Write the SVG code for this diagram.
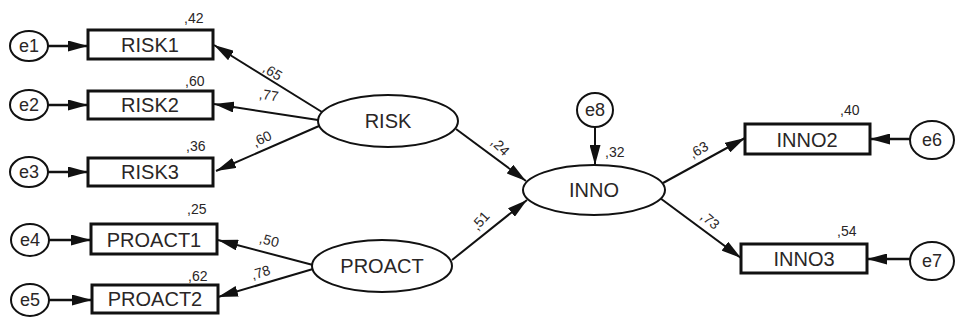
<svg xmlns="http://www.w3.org/2000/svg" width="957" height="324" viewBox="0 0 957 324">
<style>
text{font-family:"Liberation Sans",Arial,sans-serif;fill:#2a2626}
.obs{fill:#fff;stroke:#111;stroke-width:3}
.lat{fill:#fff;stroke:#111;stroke-width:2}
.err{fill:#fff;stroke:#111;stroke-width:2}
.big{font-size:20px;text-anchor:middle}
.el{font-size:18px;text-anchor:middle}
.sm{font-size:14px}
.pl{font-size:14px;text-anchor:middle}
.c{stroke:#111;stroke-width:2;fill:none;marker-end:url(#ah)}
.ce{stroke:#111;stroke-width:2.5;fill:none;marker-end:url(#ah)}
</style>
<defs>
<marker id="ah" markerUnits="userSpaceOnUse" markerWidth="20" markerHeight="11" refX="20" refY="5.5" orient="auto">
<path d="M0,0 L20,5.5 L0,11 z" fill="#111"/>
</marker>
</defs>
<g id="connectors">
<line class="ce" x1="48" y1="46" x2="88" y2="46"/>
<line class="ce" x1="48" y1="105" x2="88" y2="105"/>
<line class="ce" x1="48" y1="172" x2="88" y2="172"/>
<line class="ce" x1="49" y1="240" x2="91" y2="240"/>
<line class="ce" x1="49" y1="300" x2="92" y2="300"/>
<line class="c" x1="322" y1="112" x2="214" y2="45"/>
<line class="c" x1="318" y1="120" x2="214" y2="104"/>
<line class="c" x1="319" y1="126" x2="216" y2="171"/>
<line class="c" x1="313" y1="265" x2="218" y2="240"/>
<line class="c" x1="313" y1="269" x2="218" y2="297"/>
<line class="c" x1="456" y1="129" x2="526" y2="181"/>
<line class="c" x1="452" y1="260" x2="527" y2="200"/>
<line class="c" x1="595" y1="127" x2="595" y2="165"/>
<line class="c" x1="663" y1="183" x2="745" y2="138"/>
<line class="c" x1="660" y1="198" x2="741" y2="258"/>
<line class="ce" x1="910" y1="139" x2="870" y2="139"/>
<line class="ce" x1="910" y1="259" x2="867" y2="259"/>
<text class="pl" transform="translate(270,76) rotate(32)">,65</text>
<text class="pl" transform="translate(268,100) rotate(9)">,77</text>
<text class="pl" transform="translate(264,143) rotate(-26)">,60</text>
<text class="pl" transform="translate(268,245) rotate(15)">,50</text>
<text class="pl" transform="translate(262,277) rotate(-17)">,78</text>
<text class="pl" transform="translate(497,150) rotate(45)">,24</text>
<text class="pl" transform="translate(484,224) rotate(-48)">,51</text>
<text class="pl" transform="translate(701,154) rotate(-30)">,63</text>
<text class="pl" transform="translate(707,224) rotate(40)">,73</text>
</g>
<g id="e1"><ellipse class="err" cx="29" cy="46" rx="19" ry="15"/><text class="el" x="29" y="52">e1</text></g>
<g id="e2"><ellipse class="err" cx="29" cy="105" rx="19" ry="15"/><text class="el" x="29" y="111">e2</text></g>
<g id="e3"><ellipse class="err" cx="29" cy="172" rx="19" ry="15"/><text class="el" x="29" y="178">e3</text></g>
<g id="e4"><ellipse class="err" cx="30" cy="240" rx="19" ry="16"/><text class="el" x="30" y="246">e4</text></g>
<g id="e5"><ellipse class="err" cx="30" cy="300" rx="19" ry="16"/><text class="el" x="30" y="306">e5</text></g>
<g id="e8"><ellipse class="err" cx="595" cy="110" rx="18" ry="17"/><text class="el" x="595" y="116">e8</text></g>
<g id="e6"><ellipse class="err" cx="932" cy="140" rx="22" ry="19"/><text class="el" x="932" y="146">e6</text></g>
<g id="e7"><ellipse class="err" cx="932" cy="261" rx="22" ry="19"/><text class="el" x="932" y="267">e7</text></g>
<g id="RISK1"><rect class="obs" x="88" y="30" width="125" height="29"/><text class="big" x="150" y="52">RISK1</text><text class="sm" x="184" y="23">,42</text></g>
<g id="RISK2"><rect class="obs" x="88" y="91" width="125" height="28"/><text class="big" x="150" y="112">RISK2</text><text class="sm" x="185" y="86">,60</text></g>
<g id="RISK3"><rect class="obs" x="88" y="158" width="125" height="28"/><text class="big" x="150" y="179">RISK3</text><text class="sm" x="186" y="151">,36</text></g>
<g id="PROACT1"><rect class="obs" x="91" y="224" width="126" height="30"/><text class="big" x="154" y="247">PROACT1</text><text class="sm" x="187" y="214">,25</text></g>
<g id="PROACT2"><rect class="obs" x="92" y="285" width="126" height="28"/><text class="big" x="155" y="306">PROACT2</text><text class="sm" x="188" y="281">,62</text></g>
<g id="RISK"><ellipse class="lat" cx="388" cy="121" rx="70" ry="26"/><text class="big" x="388" y="128">RISK</text></g>
<g id="PROACT"><ellipse class="lat" cx="382" cy="266" rx="70" ry="26"/><text class="big" x="382" y="273">PROACT</text></g>
<g id="INNO"><ellipse class="lat" cx="594" cy="190" rx="71" ry="25"/><text class="big" x="594" y="197">INNO</text><text class="sm" x="605" y="157">,32</text></g>
<g id="INNO2"><rect class="obs" x="745" y="124" width="125" height="30"/><text class="big" x="807" y="147">INNO2</text><text class="sm" x="840" y="115">,40</text></g>
<g id="INNO3"><rect class="obs" x="741" y="244" width="126" height="29"/><text class="big" x="804" y="266">INNO3</text><text class="sm" x="837" y="236">,54</text></g>
</svg>
